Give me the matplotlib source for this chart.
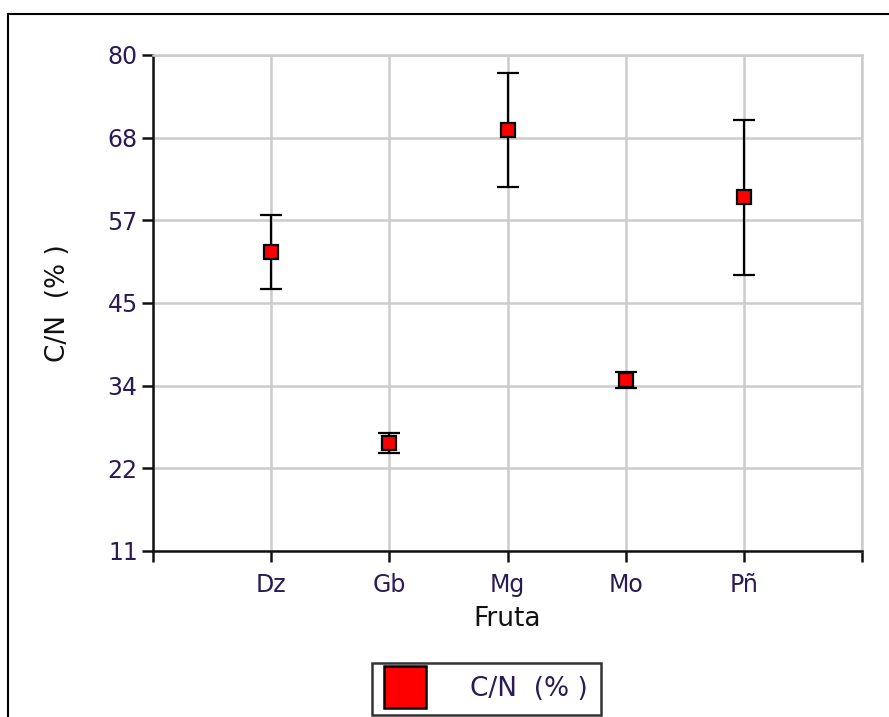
import matplotlib.pyplot as plt
from matplotlib.patches import Rectangle
from matplotlib.lines import Line2D

plt.rcParams['font.family'] = ['DejaVu Sans']

# data
frutas = ['Dz', 'Gb', 'Mg', 'Mo', 'Pñ']
cn_media = [52.6, 26.0, 69.6, 34.8, 60.2]
cn_error = [5.1, 1.4, 7.9, 1.1, 10.8]
y_ticks = [11, 22.5, 34, 45.5, 57, 68.5, 80]
y_labels = ['11', '22', '34', '45', '57', '68', '80']

text_color = '#2a1a55'
grid_color = '#cccccc'

fig = plt.figure(figsize=(8.89, 7.17), dpi=100)
ax = fig.add_axes([153 / 889, 1 - 551 / 717, 709 / 889, 496 / 717])

xs = list(range(1, len(frutas) + 1))
ax.errorbar(xs, cn_media, yerr=cn_error, fmt='none', ecolor='black',
            elinewidth=1.6, capsize=8, capthick=1.6, zorder=3)
ax.plot(xs, cn_media, linestyle='none', marker='s', markersize=9.5,
        markerfacecolor='#ff0000', markeredgecolor='black',
        markeredgewidth=1.6, zorder=4)

ax.set_xlim(0, len(frutas) + 1)
ax.set_ylim(11, 80)
ax.set_xticks(range(0, len(frutas) + 2))
ax.set_xticklabels([''] + frutas + [''])
ax.set_yticks(y_ticks)
ax.set_yticklabels(y_labels)

ax.grid(True, color=grid_color, linewidth=1.8, zorder=0)
ax.set_axisbelow(True)
for side in ['top', 'right']:
    ax.spines[side].set_color(grid_color)
    ax.spines[side].set_linewidth(1.8)
for side in ['left', 'bottom']:
    ax.spines[side].set_color('#111111')
    ax.spines[side].set_linewidth(1.8)

ax.tick_params(axis='both', direction='out', length=8, width=1.8,
               colors='#111111', labelcolor=text_color, labelsize=17)
ax.tick_params(axis='x', pad=8)
ax.tick_params(axis='y', pad=3)

ax.set_xlabel('Fruta', fontsize=19, color='#111111', labelpad=6)
ax.set_ylabel('C/N  (% )', fontsize=19, color='#111111', labelpad=26)

# outer frame of the picture
fig.patches.append(Rectangle((8 / 889, -0.1), 1.2, 1 - 14 / 717 + 0.1,
                             transform=fig.transFigure, fill=False,
                             edgecolor='black', linewidth=1.5))

# legend box at the bottom, partly cut off
handle = Line2D([], [], linestyle='none', marker='s', markersize=30,
                markerfacecolor='#ff0000', markeredgecolor='black',
                markeredgewidth=1.8)
leg = fig.legend([handle], ['C/N  (% )'], loc='upper left',
                 bbox_to_anchor=(372 / 889, 1 - 663 / 717),
                 frameon=True, fancybox=False, fontsize=19,
                 handlelength=1.5, handletextpad=1.7, borderpad=0.5,
                 borderaxespad=0, labelcolor=text_color)
leg.get_frame().set_edgecolor('black')
leg.get_frame().set_linewidth(1.8)

fig.savefig('out.png', dpi=100)
